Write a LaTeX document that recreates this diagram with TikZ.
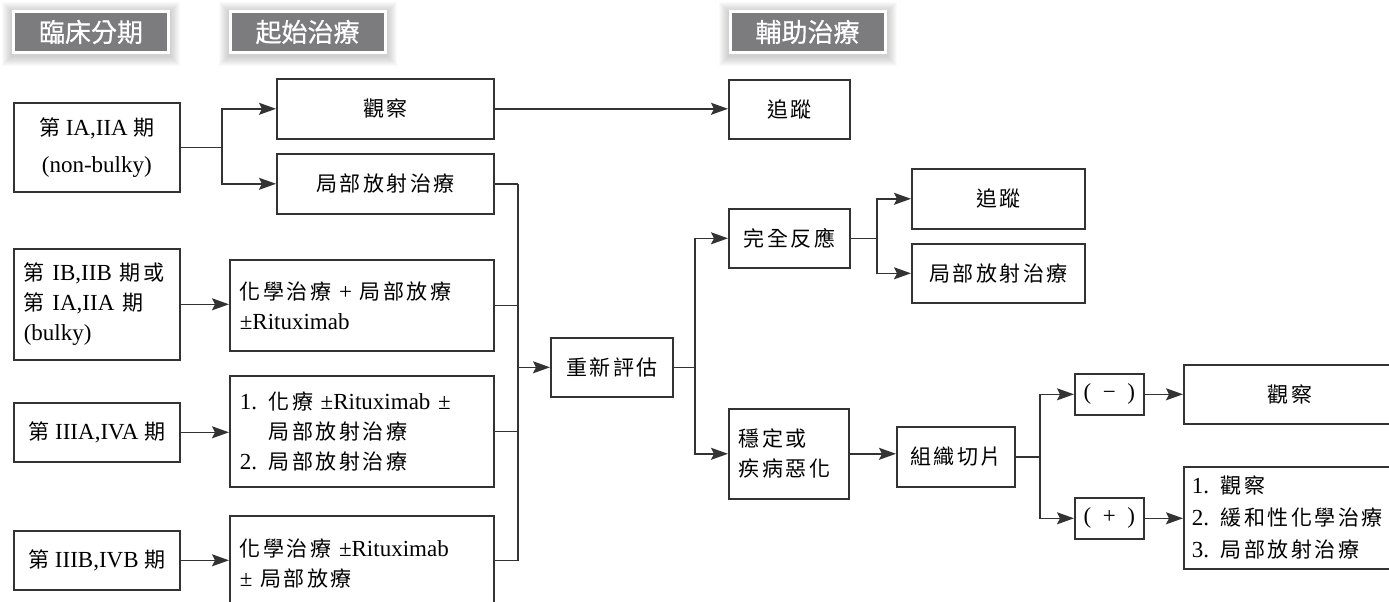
\documentclass[tikz,border=0pt]{standalone}
\usepackage{fontspec}
\setmainfont{Liberation Serif}
\newfontfamily\zhfont[LetterSpace=12]{Noto Sans CJK TC}
\newfontfamily\tabfont[FakeBold=0.6]{Noto Sans CJK TC}
\newcommand{\zh}[1]{{\zhfont\fontsize{21}{30}\selectfont #1}}
\usepackage{xcolor}
\usetikzlibrary{positioning,calc,arrows.meta,backgrounds}
\definecolor{linec}{HTML}{333333}
\definecolor{tabgray}{HTML}{7C7C7F}

\begin{document}
\begin{tikzpicture}[x=1pt,y=-1pt,
	box/.style={draw=linec, line width=1.6pt, inner xsep=10pt, inner ysep=0pt, anchor=north west, align=center, font=\fontsize{23}{30}\selectfont},
	lbox/.style={box, align=left},
	tab/.style={fill=tabgray, draw=white, line width=3pt, minimum width=155pt, minimum height=41pt, inner sep=0pt, text=white, font=\tabfont\fontsize{26}{30}\selectfont},
	link/.style={draw=linec, line width=1.4pt},
	arr/.style={link, -{Stealth[length=17pt,width=12pt,inset=3pt]}}]
	
	\clip (0,0) rectangle (1389,602);
	
	\node[tab] (hdStage) at (91,32) {臨床分期};
	\node[tab] (hdStart) at (307.5,32) {起始治療};
	\node[tab] (hdAdj) at (807.5,32) {輔助治療};
	\begin{scope}[on background layer]
		\foreach \tb in {hdStage,hdStart,hdAdj} {
			\foreach \s in {1,...,10} {
				\fill[black,opacity=0.018] ([shift={(-\s,-\s+2)}]\tb.north west) rectangle ([shift={(\s,\s+2)}]\tb.south east);
			}
		}
	\end{scope}
	
	\node[box, minimum width=166pt, minimum height=89pt] (stageA) at (13,102) {\zh{第} IA,IIA \zh{期}\\[7pt](non-bulky)};
	\node[box, minimum width=217pt, minimum height=60pt] (obsA) at (276,78) {\zh{觀察}};
	\node[box, minimum width=217pt, minimum height=60pt] (radA) at (276,153) {\zh{局部放射治療}};
	\node[box, minimum width=121pt, minimum height=59pt] (followA) at (728,79) {\zh{追蹤}};
	
	\node[lbox, minimum height=111pt, text width=146pt] (stageB) at (13,248) {\zh{第} IB,IIB \zh{期或}\\\zh{第} IA,IIA \zh{期}\\(bulky)};
	\node[lbox, minimum height=91pt, text width=244pt] (treatB) at (229,259) {\zh{化學治療} + \zh{局部放療}\\±Rituximab};
	\node[box, minimum width=166pt, minimum height=59pt] (stageC) at (13,402) {\zh{第} IIIA,IVA \zh{期}};
	\node[lbox, minimum height=111pt, text width=244pt] (treatC) at (229,375) {1. \zh{化療} ±Rituximab ±\\\phantom{1. }\zh{局部放射治療}\\2. \zh{局部放射治療}};
	\node[box, minimum width=166pt, minimum height=59pt] (stageD) at (13,530) {\zh{第} IIIB,IVB \zh{期}};
	\node[lbox, minimum height=95pt, text width=244pt] (treatD) at (229,515) {\zh{化學治療} ±Rituximab\\± \zh{局部放療}};
	
	\node[box, minimum width=122pt, minimum height=59pt] (reeval) at (550,337) {\zh{重新評估}};
	\node[box, minimum width=121pt, minimum height=59pt] (complete) at (728,208) {\zh{完全反應}};
	\node[lbox, minimum height=90pt, text width=100pt] (stable) at (728,408) {\zh{穩定或}\\\zh{疾病惡化}};
	\node[box, minimum width=173pt, minimum height=60pt] (followB) at (911,168) {\zh{追蹤}};
	\node[box, minimum width=173pt, minimum height=59pt] (radB) at (911,243) {\zh{局部放射治療}};
	\node[box, minimum width=118pt, minimum height=60pt] (biopsy) at (896,426) {\zh{組織切片}};
	\node[box, minimum width=69pt, minimum height=41pt, inner xsep=0pt] (neg) at (1074,373) {(\enspace−\enspace)};
	\node[box, minimum width=69pt, minimum height=41pt, inner xsep=0pt] (pos) at (1074,497) {(\enspace+\enspace)};
	\node[box, minimum width=212pt, minimum height=59pt] (obsB) at (1183,364) {\zh{觀察}};
	\node[lbox, minimum height=102pt, text width=210pt, inner xsep=8pt, font=\fontsize{23}{32}\selectfont] (options) at (1183,466) {1. \zh{觀察}\\2. \zh{緩和性化學治療}\\3. \zh{局部放射治療}};
	
	\coordinate (splitA) at (222,0);
	\coordinate (joinR) at (518,0);
	\coordinate (splitR) at (695,0);
	\coordinate (splitC) at (877,0);
	\coordinate (splitS) at (1040,0);
	
	\draw[link] (stageA.east) -- (stageA.east -| splitA);
	\draw[arr] (stageA.east -| splitA) |- (obsA.west);
	\draw[arr] (stageA.east -| splitA) |- (radA.west);
	\draw[arr] (obsA.east) -- (obsA.east -| followA.west);
	
	\draw[arr] (stageB.east) -- (stageB.east -| treatB.west);
	\draw[arr] (stageC.east) -- (stageC.east -| treatC.west);
	\draw[arr] (stageD.east) -- (stageD.east -| treatD.west);
	
	\foreach \nd in {radA,treatB,treatC} {
		\draw[link] (\nd.east) -- (\nd.east -| joinR);
	}
	\draw[link] (radA.east -| joinR) |- (stageD.east -| treatD.east);
	\draw[arr] (reeval.west -| joinR) -- (reeval.west);
	
	\draw[link] (reeval.east) -- (reeval.east -| splitR);
	\draw[arr] (reeval.east -| splitR) |- (complete.west);
	\draw[arr] (reeval.east -| splitR) |- (stable.west);
	
	\draw[link] (complete.east) -- (complete.east -| splitC);
	\draw[arr] (complete.east -| splitC) |- (followB.west);
	\draw[arr] (complete.east -| splitC) |- (radB.west);
	
	\draw[arr] (stable.east) -- (stable.east -| biopsy.west);
	\draw[link] (biopsy.east) -- (biopsy.east -| splitS);
	\draw[arr] (biopsy.east -| splitS) |- (neg.west);
	\draw[arr] (biopsy.east -| splitS) |- (pos.west);
	\draw[arr] (neg.east) -- (neg.east -| obsB.west);
	\draw[arr] (pos.east) -- (pos.east -| options.west);
\end{tikzpicture}
\end{document}
